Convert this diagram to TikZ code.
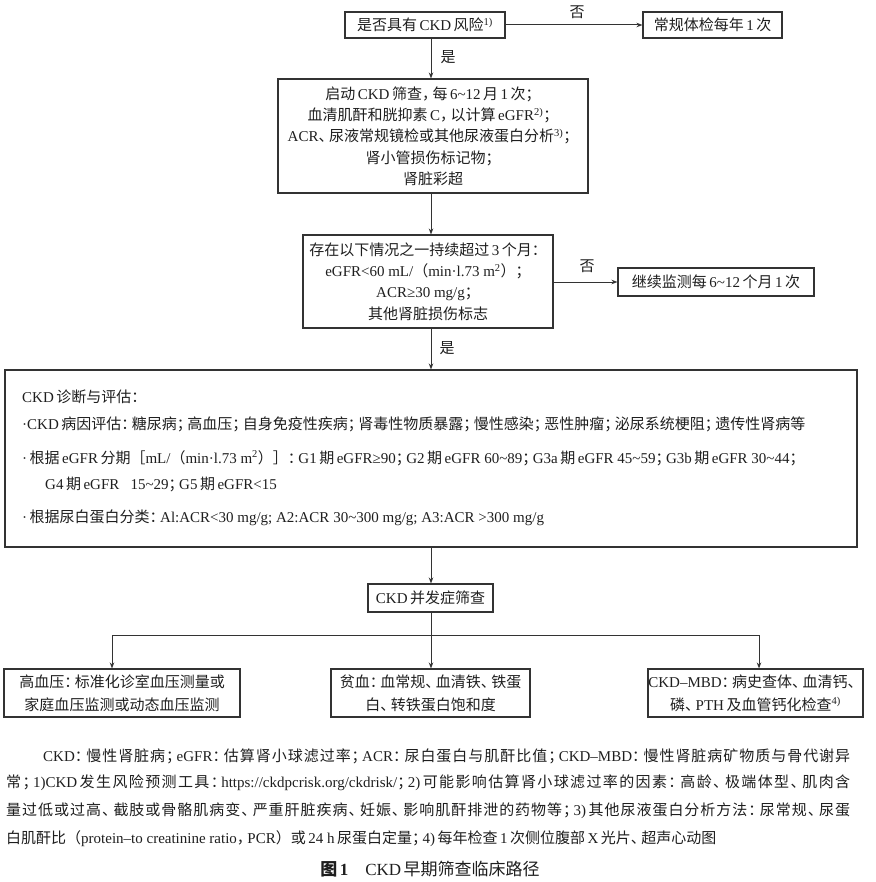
\documentclass[tikz,border=0pt]{standalone}
\usepackage{fontspec}
\setmainfont{Liberation Serif}
\newfontfamily\cjk{Noto Sans CJK SC}
\usetikzlibrary{arrows.meta}
\definecolor{lc}{HTML}{333333}
\definecolor{tc}{HTML}{1E1E1E}
% --- automatic switch between Latin and CJK fonts ---
\chardef\CJKide=10
\chardef\CJKpun=11
\chardef\CJKcl=12
\newcount\cjkcnt
\cjkcnt=0
\loop \XeTeXcharclass\cjkcnt=0 \advance\cjkcnt by 1 \ifnum\cjkcnt<"3000 \repeat
\cjkcnt="3000
\loop \XeTeXcharclass\cjkcnt=\CJKpun \advance\cjkcnt by 1 \ifnum\cjkcnt<"3040 \repeat
\cjkcnt="4E00
\loop \XeTeXcharclass\cjkcnt=\CJKide \advance\cjkcnt by 1 \ifnum\cjkcnt<"A000 \repeat
\cjkcnt="FF00
\loop \XeTeXcharclass\cjkcnt=\CJKpun \advance\cjkcnt by 1 \ifnum\cjkcnt<"FFF0 \repeat
\XeTeXcharclass"3001=\CJKcl
\XeTeXcharclass"3002=\CJKcl
\XeTeXcharclass"FF0C=\CJKcl
\XeTeXcharclass"FF1A=\CJKcl
\XeTeXcharclass"FF1B=\CJKcl
\newcommand\latinsw{\rmfamily}
\newcommand\cjkstretch{}
\newdimen\cjkgapdim \cjkgapdim=2.5pt
\newcommand\cjkpk{\kern-0.3em}
\XeTeXinterchartoks 0 \CJKide = {\hskip\cjkgapdim\cjk}
\XeTeXinterchartoks 0 \CJKpun = {\cjk}
\XeTeXinterchartoks 0 \CJKcl = {\cjk}
\XeTeXinterchartoks 4095 \CJKide = {\cjk}
\XeTeXinterchartoks 4095 \CJKpun = {\cjk}
\XeTeXinterchartoks 4095 \CJKcl = {\cjk}
\XeTeXinterchartoks \CJKide 0 = {\latinsw\hskip\cjkgapdim}
\XeTeXinterchartoks \CJKpun 0 = {\latinsw}
\XeTeXinterchartoks \CJKcl 0 = {\cjkpk\latinsw}
\XeTeXinterchartoks \CJKide 4095 = {\latinsw}
\XeTeXinterchartoks \CJKpun 4095 = {\latinsw}
\XeTeXinterchartoks \CJKcl 4095 = {\latinsw}
\XeTeXinterchartoks \CJKide \CJKide = {\cjkstretch}
\XeTeXinterchartoks \CJKide \CJKpun = {\cjkstretch}
\XeTeXinterchartoks \CJKide \CJKcl = {\cjkstretch}
\XeTeXinterchartoks \CJKpun \CJKide = {\cjkstretch}
\XeTeXinterchartoks \CJKpun \CJKpun = {\cjkstretch}
\XeTeXinterchartoks \CJKpun \CJKcl = {\cjkstretch}
\XeTeXinterchartoks \CJKcl \CJKide = {\cjkpk\cjkstretch}
\XeTeXinterchartoks \CJKcl \CJKpun = {\cjkpk\cjkstretch}
\XeTeXinterchartoks \CJKcl \CJKcl = {\cjkpk\cjkstretch}
\XeTeXinterchartokenstate=1
\newcommand\tld{\textasciitilde}
\newcommand\fsA{\fontsize{15}{21.3}\selectfont}
\newcommand\fsB{\fontsize{15}{23}\selectfont}
\newcommand\fsC{\fontsize{17}{20}\selectfont}
\newcommand\jst{\def\cjkstretch{\hskip 0pt plus 3pt}}
\begin{document}
\begin{tikzpicture}[x=1pt,y=-1pt,
  box/.style={draw=lc, line width=1.1pt, inner sep=0pt, text=tc, font=\fsA},
  bbox/.style={box, font=\fsB, align=center, minimum height=48pt},
  lbl/.style={inner sep=0pt, text=tc, font=\fsA},
  txt/.style={inner sep=0pt, text=tc, font=\fsA, anchor=west},
  ft/.style={inner sep=0pt, text=tc, font=\fsA, anchor=west},
  arr/.style={draw=lc, line width=1pt, -{Stealth[length=6pt,width=4.5pt]}},
  ln/.style={draw=lc, line width=1pt}]
\useasboundingbox (0,0) rectangle (875,882);
\coordinate (tx) at (431,0);
% row 1
\node[box, minimum width=160pt, minimum height=26pt] (q1) at (425,25) {是否具有CKD风险\textsuperscript{1)}};
\node[box, minimum width=139pt, minimum height=26pt] (r1) at (712.5,25) {常规体检每年1次};
\draw[arr] (q1.east) -- (r1.west);
\node[lbl] (no1) at (577,12) {否};
% box 2
\node[box, minimum width=310pt, minimum height=114pt, align=center] (b2) at (433,136)
  {启动CKD筛查，每6\tld12月1次；\\血清肌酐和胱抑素C，以计算eGFR\textsuperscript{2)}；\\ACR、尿液常规镜检或其他尿液蛋白分析\textsuperscript{3)}；\\肾小管损伤标记物；\\肾脏彩超};
\draw[arr] (tx |- q1.south) -- (tx |- b2.north);
\node[lbl] (yes1) at (448,57) {是};
% box 3
\node[box, minimum width=250pt, minimum height=93pt, align=center] (b3) at (428,281.5)
  {存在以下情况之一持续超过3个月：\\eGFR<60 mL/（min·l.73 m\textsuperscript{2}）；\\ACR≥30 mg/g；\\其他肾脏损伤标志};
\draw[arr] (tx |- b2.south) -- (tx |- b3.north);
\node[box, minimum width=196pt, minimum height=28pt] (r2) at (716,282) {继续监测每6\tld12个月1次};
\draw[arr] (b3.east |- r2.west) -- (r2.west);
\node[lbl] (no2) at (587,266) {否};
% big box
\node[box, minimum width=852pt, minimum height=177pt] (b4) at (431,458.5) {};
\draw[arr] (tx |- b3.south) -- (tx |- b4.north);
\node[lbl] (yes2) at (447,348) {是};
\node[txt] (l1) at (22,397) {CKD诊断与评估：};
\node[txt] (l2) at (22,424) {·CKD病因评估：糖尿病；高血压；自身免疫性疾病；肾毒性物质暴露；慢性感染；恶性肿瘤；泌尿系统梗阻；遗传性肾病等};
\node[txt] (l3) at (22,458) {·根据eGFR分期［mL/（min·l.73 m\textsuperscript{2}）］：G1期eGFR≥90；G2期eGFR 60\tld89；G3a期eGFR 45\tld59；G3b期eGFR 30\tld44；};
\node[txt] (l4) at (45,484) {G4期eGFR\hspace{0.5em} 15\tld29；G5期eGFR<15};
\node[txt] (l5) at (22,518) {·根据尿白蛋白分类：Al:ACR<30 mg/g; A2:ACR 30\tld300 mg/g; A3:ACR >300 mg/g};
% complications
\node[box, minimum width=125pt, minimum height=28pt] (c) at (430.5,598) {CKD并发症筛查};
\draw[arr] (tx |- b4.south) -- (tx |- c.north);
\node[bbox, minimum width=236pt] (d1) at (122,693) {高血压：标准化诊室血压测量或\\家庭血压监测或动态血压监测};
\node[bbox, minimum width=199pt] (d2) at (430.5,693) {贫血：血常规、血清铁、铁蛋\\白、转铁蛋白饱和度};
\node[bbox, minimum width=215pt] (d3) at (755.5,693) {CKD–MBD：病史查体、血清钙、\\磷、PTH及血管钙化检查\textsuperscript{4)}};
\coordinate (bl) at (112,635);
\coordinate (brr) at (759,635);
\draw[arr] (tx |- c.south) -- (tx |- d2.north);
\draw[arr] (bl -| tx) -- (bl) -- (bl |- d1.north);
\draw[arr] (brr -| tx) -- (brr) -- (brr |- d3.north);
% footnotes
\node[ft] (f1) at (43,756) {\hbox to 807pt{\jst CKD：慢性肾脏病；eGFR：估算肾小球滤过率；ACR：尿白蛋白与肌酐比值；CKD–MBD：慢性肾脏病矿物质与骨代谢异}};
\node[ft] (f2) at (6,783) {\hbox to 844pt{\jst 常；1)CKD发生风险预测工具：https://ckdpcrisk.org/ckdrisk/；2)可能影响估算肾小球滤过率的因素：高龄、极端体型、肌肉含}};
\node[ft] (f3) at (6,811) {\hbox to 844pt{\jst 量过低或过高、截肢或骨骼肌病变、严重肝脏疾病、妊娠、影响肌酐排泄的药物等；3)其他尿液蛋白分析方法：尿常规、尿蛋}};
\node[ft] (f4) at (6,839) {白肌酐比（protein–to creatinine ratio，PCR）或24 h尿蛋白定量；4)每年检查1次侧位腹部X光片、超声心动图};
\node[inner sep=0pt, text=tc, font=\fsC] (cap) at (430,869) {{\bfseries 图1}\hspace{1em}CKD早期筛查临床路径};
\end{tikzpicture}
\end{document}
